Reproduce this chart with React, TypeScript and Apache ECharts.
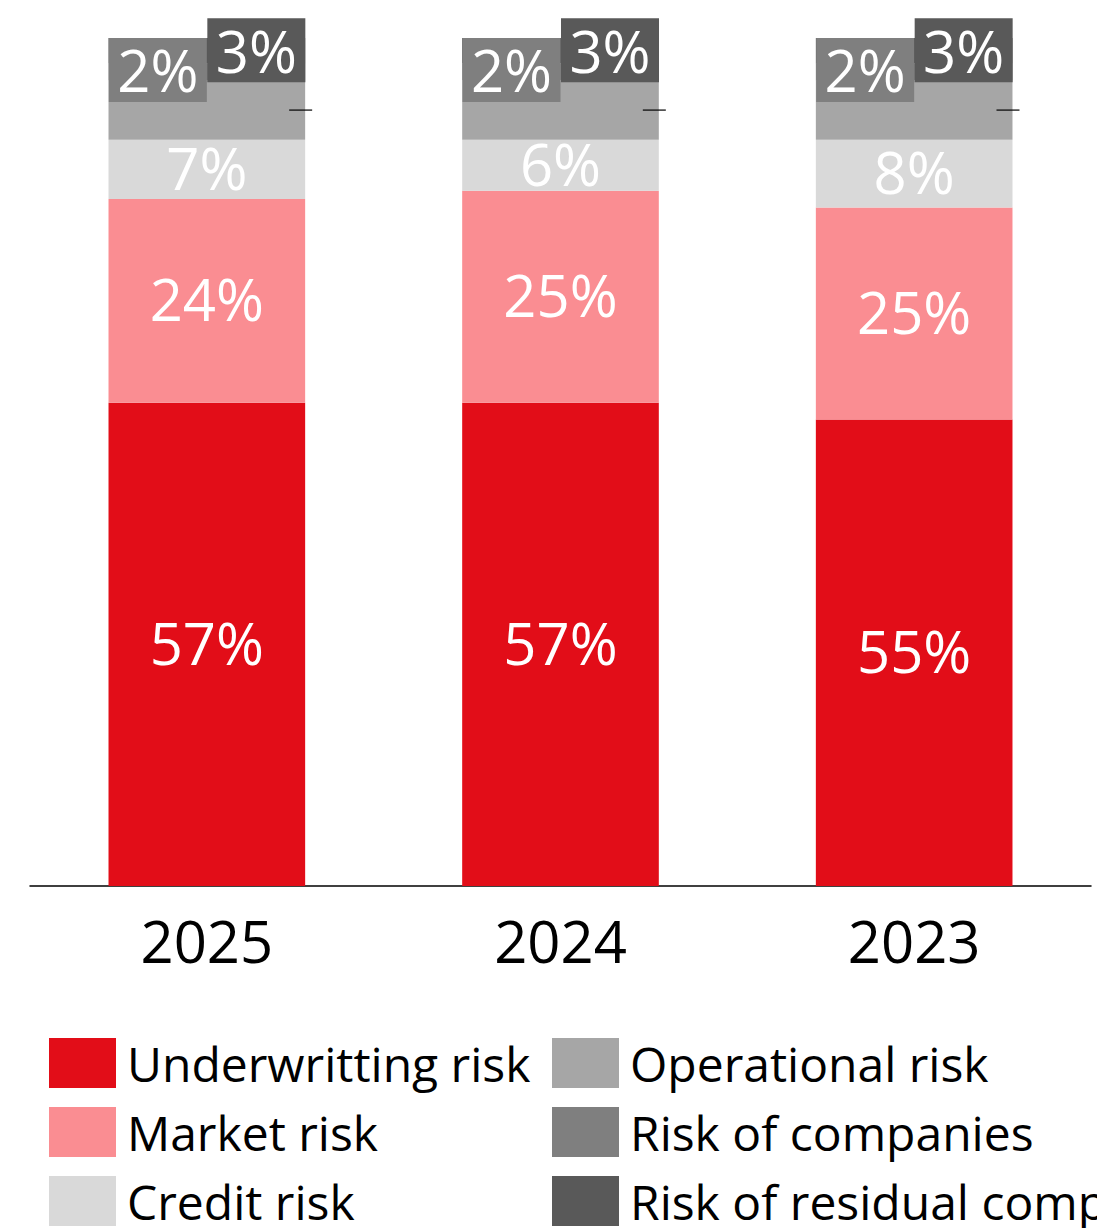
import React, { useEffect, useRef } from "react";
import * as echarts from "echarts";

const categories = ["2025", "2024", "2023"];
const seriesNames = [
  "Underwritting risk",
  "Market risk",
  "Credit risk",
  "Operational risk",
  "Risk of companies",
  "Risk of residual companies",
];
const underwriting = [57, 57, 55];
const market = [24, 25, 25];
const credit = [7, 6, 8];
const operational = [7, 7, 7];
const companies = [2, 2, 2];
const residual = [3, 3, 3];
const colors = ["#E20D18", "#FA8D92", "#D9D9D9", "#A6A6A6", "#7F7F7F", "#595959"];

const FONT = "Open Sans";

export default function App() {
  const ref = useRef<HTMLDivElement>(null);
  useEffect(() => {
    if (!ref.current) return;
    const chart = echarts.init(ref.current, null, { renderer: "svg" });
    const data = [underwriting, market, credit, operational, companies, residual];
    const baseLabel = {
      show: true,
      position: "inside",
      color: "#ffffff",
      fontSize: 58,
      fontFamily: FONT,
      formatter: "{c}%",
      offset: [0, -2],
    };
    const boxLabel = (color: string, offset: number[]) => ({
      ...baseLabel,
      backgroundColor: color,
      width: 98,
      height: 52,
      lineHeight: 52,
      align: "center",
      verticalAlign: "middle",
      padding: [0, 0, 12, 0],
      offset,
    });
    const series = seriesNames.map((name, i) => {
      let label: any = { ...baseLabel };
      if (i === 3) label = { show: false };
      if (i === 4) label = boxLabel(colors[4], [-49, -2]);
      if (i === 5) label = boxLabel(colors[5], [49.5, -0.5]);
      return {
        name,
        type: "bar",
        stack: "total",
        barWidth: "55.6%",
        data: data[i],
        itemStyle: { color: colors[i] },
        label,
      };
    });
    const legendCommon = {
      orient: "vertical",
      icon: "rect",
      itemWidth: 67,
      itemHeight: 50,
      itemGap: 19,
      padding: 0,
      top: 1038,
      textStyle: { fontSize: 48, fontFamily: FONT, color: "#000", padding: [0, 0, 0, 6] },
      selectedMode: false,
    };
    chart.setOption({
      animation: false,
      color: colors,
      textStyle: { fontFamily: FONT },
      grid: { left: 30, right: 6, top: 38, bottom: 342, containLabel: false },
      xAxis: {
        type: "category",
        data: categories,
        axisLine: { show: true, lineStyle: { color: "#000", width: 1.5 } },
        axisTick: { show: false },
        axisLabel: { fontSize: 58, color: "#000", fontFamily: FONT, margin: 25 },
      },
      yAxis: {
        type: "value",
        min: 0,
        max: 100,
        show: false,
        splitLine: { show: false },
      },
      legend: [
        { ...legendCommon, left: 49, data: seriesNames.slice(0, 3) },
        { ...legendCommon, left: 552, data: seriesNames.slice(3, 6) },
      ],
      series,
    });
    // small tick marks at the operational segment, computed through the axes
    const elements: any[] = [];
    const p0 = chart.convertToPixel({ xAxisIndex: 0, yAxisIndex: 0 }, [0, 0]) as number[];
    const p1 = chart.convertToPixel({ xAxisIndex: 0, yAxisIndex: 0 }, [1, 0]) as number[];
    const band = p1[0] - p0[0];
    const half = (band * 0.556) / 2;
    categories.forEach((_, i) => {
      const base = underwriting[i] + market[i] + credit[i];
      const mid = base + operational[i] / 2;
      const p = chart.convertToPixel({ xAxisIndex: 0, yAxisIndex: 0 }, [i, mid]) as number[];
      const right = p[0] + half;
      elements.push({
        type: "line",
        shape: { x1: right - 16, y1: p[1], x2: right + 7, y2: p[1] },
        style: { stroke: "#000", lineWidth: 1.2 },
        z: 100,
      });
    });
    chart.setOption({ graphic: elements });
    return () => chart.dispose();
  }, []);
  return (
    <div
      ref={ref}
      style={{ position: "absolute", left: 0, top: 0, width: 1097, height: 1228 }}
    />
  );
}
